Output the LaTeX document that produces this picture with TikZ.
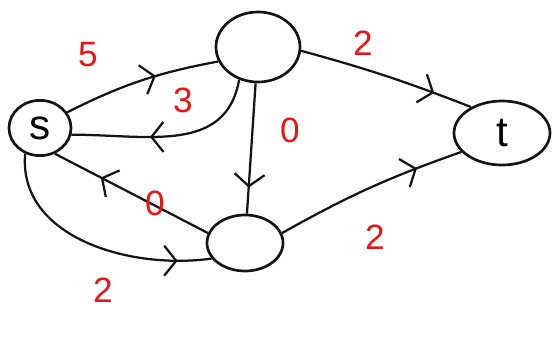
\documentclass[tikz,border=0pt]{standalone}
\usepackage{fontspec}
\setmainfont{Liberation Sans}
\usetikzlibrary{positioning,arrows.meta,shapes.geometric,decorations.markings}
\definecolor{flowInk}{RGB}{20,20,20}
\definecolor{flowRed}{RGB}{235,20,20}

\begin{document}
\begin{tikzpicture}[x=0.025cm,y=0.025cm,
    vtx/.style={draw=flowInk,ellipse,line width=1.9pt,inner sep=0pt,font=\fontsize{30}{34}\selectfont},
    caplbl/.style={flowRed,font=\fontsize{25}{29}\selectfont},
    flow/.style={flowInk,line width=1.6pt,postaction={decorate},
      decoration={markings,mark=at position #1 with {\arrow{Straight Barb[length=3mm,width=7.5mm,line width=1.6pt]}}}}]
    \useasboundingbox (0,0) rectangle (553,336);
    % vertices
    \node[vtx,minimum width=1.55cm,minimum height=1.38cm] (s) at (40,208) {s};
    \node[vtx,minimum width=2.1cm,minimum height=1.75cm] (top) at (258,289) {};
    \node[vtx,minimum width=2.4cm,minimum height=1.6cm] (t) at (502,203) {t};
    \node[vtx,minimum width=1.9cm,minimum height=1.4cm] (bot) at (245,93) {};
    % edges
    \draw[flow=0.6] (s.30) to[bend left=8] (top.200);
    \draw[flow=0.6] (top.240) to[out=-100,in=0,looseness=1.1] (s.-12);
    \draw[flow=0.78] (top.-5) to[bend left=3] (t.140);
    \draw[flow=0.8] (top) -- (bot);
    \draw[flow=0.7] (bot.165) -- (s.-60);
    \draw[flow=0.86] (s.240) to[out=-95,in=188] (bot.205);
    \draw[flow=0.76] (bot.15) to[bend left=5] (t.205);
    % capacities
    \node[caplbl] (c1) at (88,281) {5};
    \node[caplbl] (c2) at (183,236) {3};
    \node[caplbl] (c3) at (363,293) {2};
    \node[caplbl] (c4) at (290,206) {0};
    \node[caplbl] (c5) at (155,133) {0};
    \node[caplbl] (c6) at (103,46) {2};
    \node[caplbl] (c7) at (375,99) {2};
\end{tikzpicture}
\end{document}
